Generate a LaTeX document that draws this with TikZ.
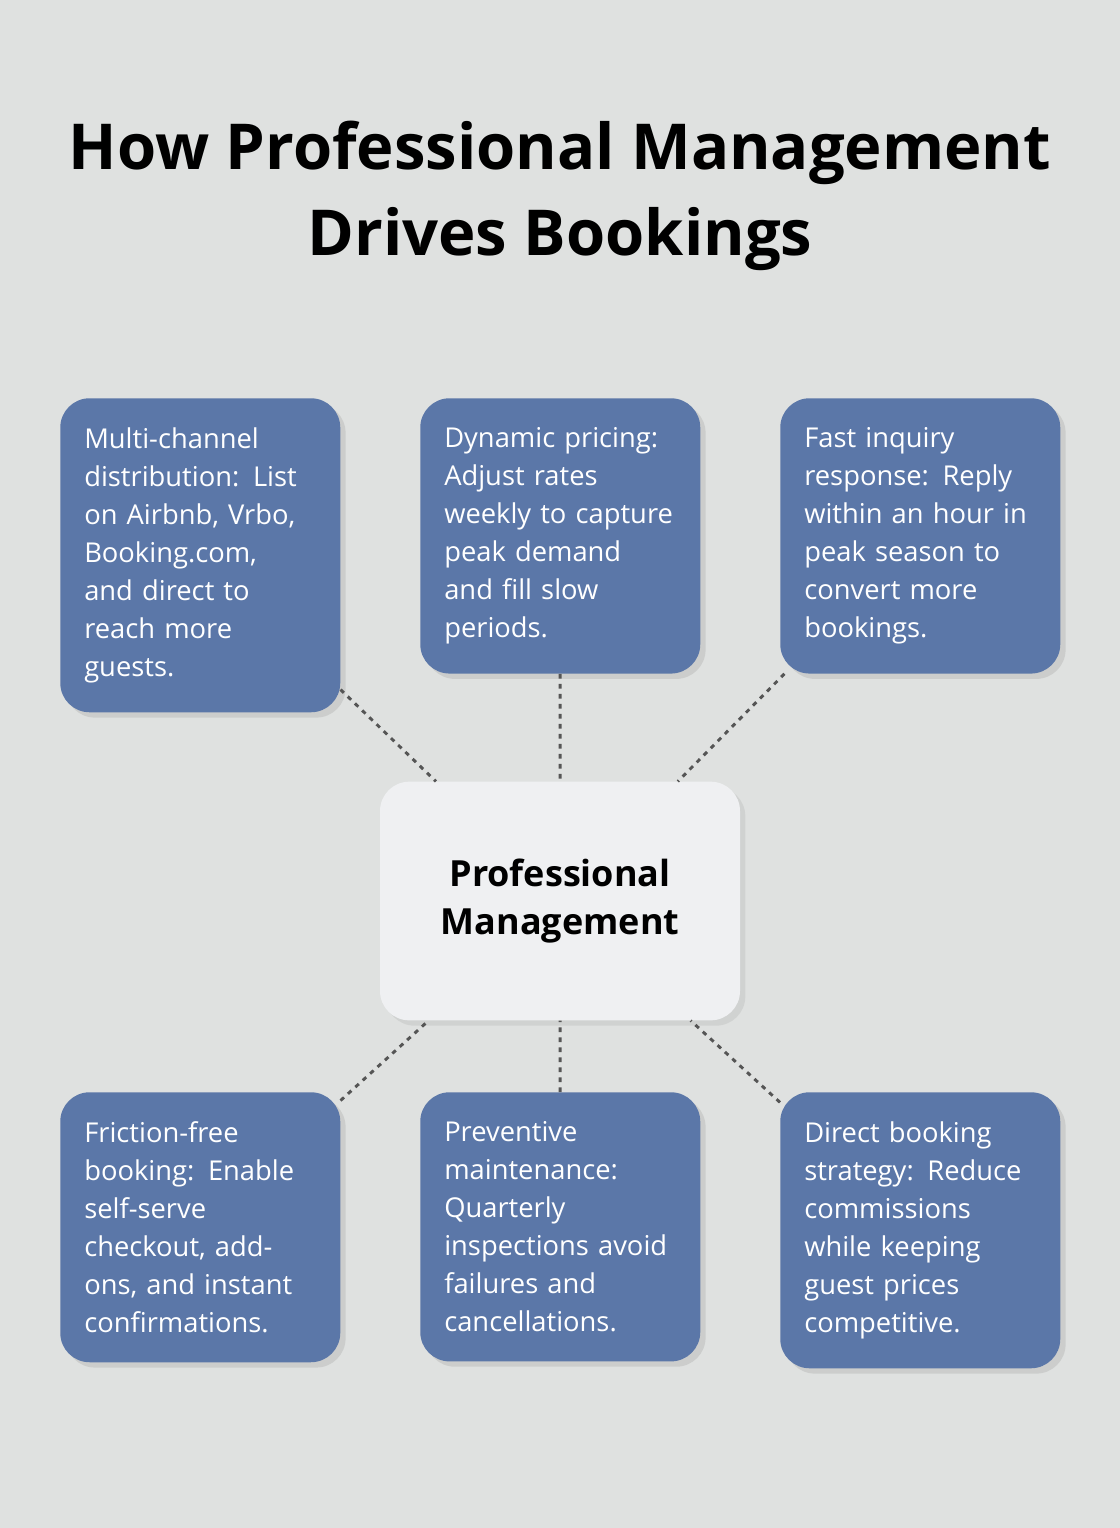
\documentclass[tikz,border=0pt]{standalone}
\usepackage{fontspec}
\setmainfont{Open Sans}
\usetikzlibrary{shadows}
\definecolor{bgcol}{HTML}{DFE1E0}
\definecolor{boxblue}{HTML}{5B77A8}
\definecolor{hubfill}{HTML}{EFF0F2}
\definecolor{linkgray}{HTML}{555555}
\tikzset{
  step box/.style={anchor=north west, fill=boxblue, text=white, rounded corners=22pt,
    text width=174pt, align=left, inner xsep=18pt, inner ysep=22pt,
    font=\fontsize{20.5}{28.5}\selectfont,
    drop shadow={opacity=0.2, shadow xshift=4pt, shadow yshift=-4pt}},
  hub/.style={fill=hubfill, rounded corners=22pt, minimum width=270pt, minimum height=179pt,
    align=center, font=\bfseries\fontsize{27}{36}\selectfont,
    drop shadow={opacity=0.15, shadow xshift=4pt, shadow yshift=-4pt}},
  link/.style={draw=linkgray, line width=2.2pt, dash pattern=on 3.5pt off 4pt}
}
\begin{document}
\begin{tikzpicture}[x=0.75pt, y=-0.75pt]
	\fill[bgcol] (0,0) rectangle (1120,1528);
	\useasboundingbox (0,0) rectangle (1120,1528);

	\node (title) at (560,196) [align=center, font=\bfseries\fontsize{47.5}{64}\selectfont]
		{How Professional Management\\Drives Bookings};

	\node (pm) [hub] at (560,901) {\raisebox{-6pt}{Professional}\\\raisebox{-6pt}{Management}};

	\node (b1) [step box] at (60,398) {Multi-channel\\distribution: List\\on Airbnb, Vrbo,\\Booking.com,\\and direct to\\reach more\\guests.};
	\node (b2) [step box] at (420,398) {Dynamic pricing:\\Adjust rates\\weekly to capture\\peak demand\\and fill slow\\periods.};
	\node (b3) [step box] at (780,398) {Fast inquiry\\response: Reply\\within an hour in\\peak season to\\convert more\\bookings.};
	\node (b4) [step box] at (60,1092) {Friction-free\\booking: Enable\\self-serve\\checkout, add-\\ons, and instant\\confirmations.};
	\node (b5) [step box] at (420,1092) {Preventive\\maintenance:\\Quarterly\\inspections avoid\\failures and\\cancellations.};
	\node (b6) [step box] at (780,1092) {Direct booking\\strategy: Reduce\\commissions\\while keeping\\guest prices\\competitive.};

	\path[link] (b1) -- (pm);
	\path[link] (b2) -- (pm);
	\path[link] (b3) -- (pm);
	\path[link] (b4) -- (pm);
	\path[link] (b5) -- (pm);
	\path[link] (b6) -- (pm);

\end{tikzpicture}
\end{document}
